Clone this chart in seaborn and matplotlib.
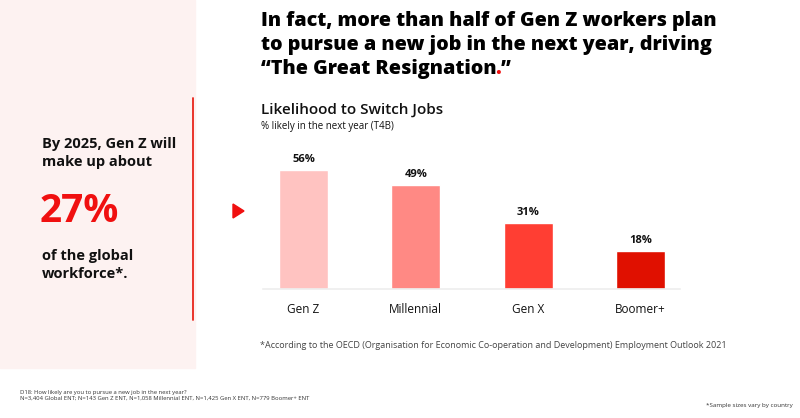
import matplotlib
matplotlib.use("Agg")
import matplotlib.pyplot as plt
import matplotlib.patches as mpatches
import seaborn as sns
import pandas as pd

categories = ["Gen Z", "Millennial", "Gen X", "Boomer+"]
likelihood = [56, 49, 31, 18]
bar_colors = ["#FFC3C1", "#FF8984", "#FF3E33", "#E01000"]

sns.set_style("white")
plt.rcParams["font.family"] = ["Open Sans", "DejaVu Sans"]

W, H = 800, 418
fig = plt.figure(figsize=(W / 100, H / 100), dpi=100)

def fx(px):
    return px / W

def fy(py):
    return 1 - py / H

# left panel
fig.patches.append(mpatches.Rectangle((0, fy(368)), fx(195), 368 / H,
                                      transform=fig.transFigure, color="#FDF2F1", zorder=0))
fig.add_artist(plt.Line2D([fx(193), fx(193)], [fy(98), fy(320)], color="#E8251C", lw=1.3))
fig.add_artist(mpatches.Polygon([[fx(233), fy(204)], [fx(233), fy(218)], [fx(244), fy(211)]],
                                closed=True, transform=fig.transFigure, color="#F01010"))

fig.text(fx(42), fy(153), "By 2025, Gen Z will\nmake up about", fontsize=10.5, fontweight="bold",
         va="center", ha="left", linespacing=1.35, color="#111111")
fig.text(fx(40), fy(211), "27%", fontsize=28, fontweight="bold", color="#F01010", va="center", ha="left")
fig.text(fx(42), fy(265), "of the global\nworkforce*.", fontsize=10.5, fontweight="bold",
         va="center", ha="left", linespacing=1.35, color="#111111")

# headline
title_kw = dict(fontsize=14.2, fontweight="heavy", va="center", ha="left", color="#000000")
fig.text(fx(261), fy(21), "In fact, more than half of Gen Z workers plan", **title_kw)
fig.text(fx(261), fy(45), "to pursue a new job in the next year, driving", **title_kw)
t3 = fig.text(fx(261), fy(69), "\u201cThe Great Resignation", **title_kw)
fig.canvas.draw()
bb = t3.get_window_extent()
t4 = fig.text((bb.x1 - 1) / W, fy(69), ".", **{**title_kw, "color": "#F01010"})
fig.canvas.draw()
bb4 = t4.get_window_extent()
fig.text((bb4.x1 - 1) / W, fy(69), "\u201d", **title_kw)

fig.text(fx(261), fy(110), "Likelihood to Switch Jobs", fontsize=11, fontweight="semibold",
         va="center", ha="left", color="#111111")
fig.text(fx(261), fy(127), "% likely in the next year (T4B)", fontsize=7, va="center", ha="left",
         color="#111111")

# chart
ax = fig.add_axes([fx(263), fy(289), fx(680) - fx(263), (289 - 162) / H])
df = pd.DataFrame({"generation": categories, "pct": likelihood})
sns.barplot(data=df, x="generation", y="pct", hue="generation", palette=bar_colors,
            width=0.435, legend=False, ax=ax, saturation=1)
ax.set_xlim(-0.36, 3.35)
ax.set_ylim(0, 60)
for i, v in enumerate(likelihood):
    ax.text(i, v + 2.5, f"{v}%", ha="center", va="bottom", fontsize=8, fontweight="bold", color="#111111")
ax.set_xlabel("")
ax.set_ylabel("")
ax.set_yticks([])
ax.tick_params(axis="x", length=0, pad=10, labelsize=8.5, labelcolor="#111111")
sns.despine(ax=ax, left=True)
ax.spines["bottom"].set_color("#EEEEEE")
ax.spines["bottom"].set_linewidth(1.2)
ax.patch.set_alpha(0)

fig.text(fx(260), fy(345), "*According to the OECD (Organisation for Economic Co-operation and Development) "
         "Employment Outlook 2021", fontsize=6.5, va="center", ha="left", color="#444444")

fig.text(fx(20), fy(395), "D18: How likely are you to pursue a new job in the next year?\n"
         "N=3,404 Global ENT; N=143 Gen Z ENT, N=1,058 Millennial ENT, N=1,425 Gen X ENT, N=779 Boomer+ ENT",
         fontsize=4.2, va="center", ha="left", color="#333333", linespacing=1.2)
fig.text(fx(793), fy(406), "*Sample sizes vary by country", fontsize=4.5, va="center", ha="right",
         color="#333333")

fig.savefig("out.png", dpi=100)
